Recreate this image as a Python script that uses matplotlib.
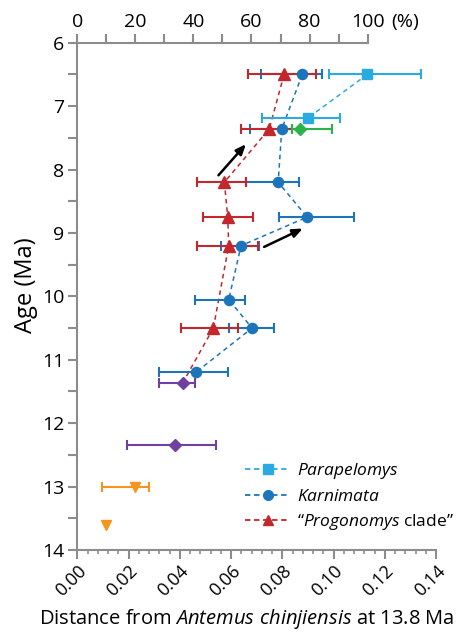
import matplotlib
matplotlib.use("Agg")
import matplotlib.pyplot as plt
import numpy as np
from matplotlib.ticker import MultipleLocator, FuncFormatter
from matplotlib.lines import Line2D

plt.rcParams['font.family'] = ['Open Sans', 'DejaVu Sans']
plt.rcParams['mathtext.fontset'] = 'custom'
plt.rcParams['mathtext.rm'] = 'Open Sans'
plt.rcParams['mathtext.it'] = 'Open Sans:italic'

# Parapelomys
para_age = [6.5, 7.18]
para_d = [0.1132, 0.0902]
para_lo = [0.0984, 0.0720]
para_hi = [0.1343, 0.1027]

# Karnimata
karn_age = [6.5, 7.36, 8.2, 8.75, 9.2, 10.05, 10.5, 11.2]
karn_d = [0.0878, 0.0798, 0.0784, 0.0897, 0.0639, 0.0591, 0.0682, 0.0462]
karn_lo = [0.0715, 0.0675, 0.0658, 0.0787, 0.0559, 0.0460, 0.0591, 0.0320]
karn_hi = [0.0955, 0.0839, 0.0865, 0.1078, 0.0708, 0.0655, 0.0767, 0.0587]

# "Progonomys clade"
prog_age = [6.5, 7.36, 8.2, 8.75, 9.2, 10.5]
prog_d = [0.0807, 0.0749, 0.0574, 0.0587, 0.0591, 0.0531]
prog_lo = [0.0667, 0.0638, 0.0469, 0.0492, 0.0466, 0.0405]
prog_hi = [0.0931, 0.0839, 0.0658, 0.0684, 0.0706, 0.0629]

# green diamond
green_age = [7.36]
green_d = [0.0871]
green_lo = [0.0839]
green_hi = [0.0995]

# purple diamonds
purp_age = [11.36, 12.35]
purp_d = [0.0412, 0.0383]
purp_lo = [0.0320, 0.0193]
purp_hi = [0.0460, 0.0542]

# orange inverted triangles
orng_age = [13.0, 13.6]
orng_d = [0.0224, 0.0111]
orng_lo = [0.0095, np.nan]
orng_hi = [0.0281, np.nan]

# arrows (start distance, start age, end distance, end age)
arrows = [(0.0551, 8.09, 0.0658, 7.60), (0.0729, 9.22, 0.0880, 8.93)]

pct_full = 0.1133  # distance corresponding to 100 %
pct_ticks = [0, 20, 40, 60, 80, 100]
pct_minor = [10, 30, 50, 70, 90]

C_PARA = '#29ABE2'
C_KARN = '#1C75BC'
C_PROG = '#C1272D'
C_GREEN = '#2BB24C'
C_PURP = '#7040A0'
C_ORNG = '#F7941D'
GRAY = '#8C8C8C'
DASH = (0, (3, 2.5))

fig = plt.figure(figsize=(4.75, 6.38), dpi=100)
ax = fig.add_axes([0.1627, 0.1379, 0.918 - 0.1627, 0.933 - 0.1379])

def errs(d, lo, hi):
    d = np.array(d, float)
    return np.vstack([d - np.array(lo, float), np.array(hi, float) - d])

def series(age, d, lo, hi, color, marker, ms, line=True):
    ax.errorbar(d, age, xerr=errs(d, lo, hi), fmt='none', ecolor=color, elinewidth=1.5,
                capsize=3.5, capthick=1.5, zorder=2)
    if line:
        ax.plot(d, age, ls=DASH, color=color, lw=1.1, zorder=1)
    ax.plot(d, age, ls='none', marker=marker, ms=ms, color=color, zorder=3)

series(para_age, para_d, para_lo, para_hi, C_PARA, 's', 6.8)
series(karn_age, karn_d, karn_lo, karn_hi, C_KARN, 'o', 7.3)
series(prog_age, prog_d, prog_lo, prog_hi, C_PROG, '^', 8)
# Progonomys lineage continues to the purple diamond
ax.plot([prog_d[-1], purp_d[0]], [prog_age[-1], purp_age[0]], ls=DASH, color=C_PROG, lw=1.1, zorder=1)
series(green_age, green_d, green_lo, green_hi, C_GREEN, 'D', 6)
series(purp_age, purp_d, purp_lo, purp_hi, C_PURP, 'D', 6, line=False)
series(orng_age, orng_d, orng_lo, orng_hi, C_ORNG, 'v', 7.5, line=False)

for x0, y0, x1, y1 in arrows:
    ax.annotate('', xy=(x1, y1), xytext=(x0, y0),
                arrowprops=dict(arrowstyle='-|>,head_length=0.6,head_width=0.25', color='black', lw=1.8,
                                shrinkA=0, shrinkB=0), zorder=4)

ax.set_xlim(0, 0.14)
ax.set_ylim(14, 6)

for s in ['right', 'top']:
    ax.spines[s].set_visible(False)
for s in ['left', 'bottom']:
    ax.spines[s].set_color(GRAY)
    ax.spines[s].set_linewidth(1.5)

ax.yaxis.set_major_locator(MultipleLocator(1))
ax.yaxis.set_minor_locator(MultipleLocator(0.5))
ax.tick_params(axis='y', which='both', direction='out', length=6.5, width=1.5, color=GRAY, labelsize=14, pad=3)
ax.xaxis.set_major_locator(MultipleLocator(0.02))
ax.xaxis.set_minor_locator(MultipleLocator(0.004))
ax.tick_params(axis='x', which='major', direction='out', length=6.5, width=1.5, color=GRAY, labelsize=13, pad=2)
ax.tick_params(axis='x', which='minor', direction='out', length=3, width=1.2, color=GRAY)
ax.xaxis.set_major_formatter(FuncFormatter(lambda v, p: f"{v:.2f}"))
for lab in ax.get_xticklabels():
    lab.set_rotation(45)
    lab.set_ha('right')
    lab.set_va('top')
    lab.set_rotation_mode('anchor')

ax.set_ylabel('Age (Ma)', fontsize=17, labelpad=3)
ax.yaxis.label.set_y(0.523)
ax.set_xlabel('Distance from $\\it{Antemus\\ chinjiensis}$ at 13.8 Ma', fontsize=14.5, labelpad=5)
ax.xaxis.label.set_x(0.472)

sec = ax.secondary_xaxis('top', functions=(lambda d: d / pct_full * 100, lambda p: p * pct_full / 100))
sec.set_xticks(pct_ticks)
sec.set_xticks(pct_minor, minor=True)
sec.spines['top'].set_color(GRAY)
sec.spines['top'].set_linewidth(1.5)
sec.spines['top'].set_bounds(0, 100)
sec.tick_params(axis='x', which='both', direction='out', length=6.5, width=1.5, color=GRAY, labelsize=14, pad=2)
ax.annotate('(%)', xy=(pct_full, 6), xycoords='data', xytext=(17, 8.5), textcoords='offset points',
            fontsize=14, ha='left', va='bottom', annotation_clip=False)

handles = [
    Line2D([], [], color=C_PARA, ls=(0, (3, 2)), marker='s', ms=6.5, lw=1.3),
    Line2D([], [], color=C_KARN, ls=(0, (3, 2)), marker='o', ms=7, lw=1.3),
    Line2D([], [], color=C_PROG, ls=(0, (3, 2)), marker='^', ms=7.5, lw=1.3),
]
labels = ['$\\it{Parapelomys}$', '$\\it{Karnimata}$', '\u201c$\\it{Progonomys}$ clade\u201d']
ax.legend(handles, labels, loc='upper left', bbox_to_anchor=(0.468, 0.175), frameon=False, fontsize=12.5,
          handlelength=2.6, handletextpad=0.4, labelspacing=0.42, borderpad=0, borderaxespad=0)

fig.savefig('out.png', dpi=100)
